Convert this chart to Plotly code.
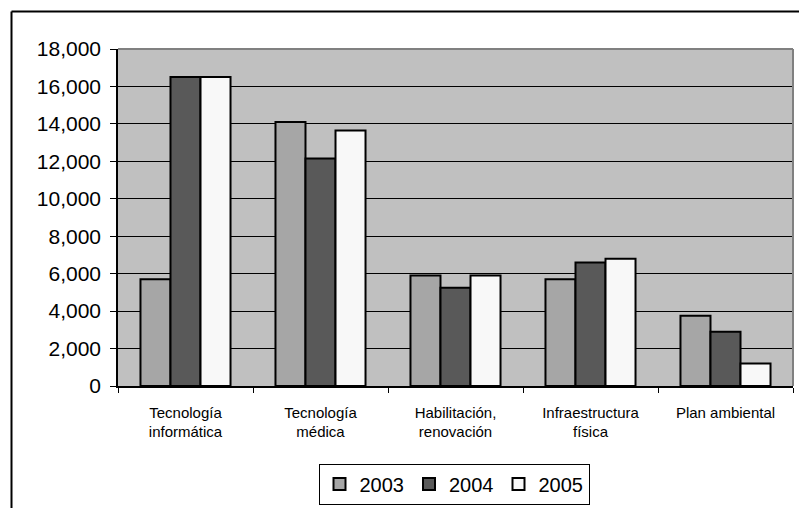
import plotly.graph_objects as go

# Categories (x axis) and yearly values
categories = [
    "Tecnología<br>informática",
    "Tecnología<br>médica",
    "Habilitación,<br>renovación",
    "Infraestructura<br>física",
    "Plan ambiental",
]
years = ["2003", "2004", "2005"]
values_2003 = [5700, 14100, 5900, 5700, 3750]
values_2004 = [16500, 12150, 5250, 6600, 2900]
values_2005 = [16500, 13650, 5900, 6800, 1200]
series_values = [values_2003, values_2004, values_2005]
bar_colors = ["#a6a6a6", "#595959", "#f8f8f8"]

y_ticks = list(range(0, 18001, 2000))

W, H = 799, 508
ML, MR, MT, MB = 118, 6, 49, 122
PW = W - ML - MR
PH = H - MT - MB

fig = go.Figure()
for name, vals, col in zip(years, series_values, bar_colors):
    fig.add_trace(go.Bar(
        x=categories, y=vals, name=name,
        marker=dict(color=col, line=dict(color="#000000", width=2)),
    ))

def px_x(p):
    return (p - ML) / PW

def px_y(q):
    return (H - MB - q) / PH

shapes = [
    # gray frame on top and right of the plotting area
    dict(type="line", xref="paper", yref="paper", x0=0, x1=1, y0=1, y1=1,
         line=dict(color="#808080", width=2)),
    dict(type="line", xref="paper", yref="paper", x0=1, x1=1, y0=0, y1=1,
         line=dict(color="#808080", width=2)),
    # outer chart border (left and top edges visible)
    dict(type="line", xref="paper", yref="paper", x0=px_x(11.5), x1=px_x(W + 5),
         y0=px_y(11.5), y1=px_y(11.5), line=dict(color="#000000", width=2)),
    dict(type="line", xref="paper", yref="paper", x0=px_x(11.5), x1=px_x(11.5),
         y0=px_y(11.5), y1=px_y(H + 5), line=dict(color="#000000", width=2)),
]

fig.update_layout(
    width=W, height=H,
    margin=dict(l=ML, r=MR, t=MT, b=MB, pad=0, autoexpand=False),
    paper_bgcolor="#ffffff",
    plot_bgcolor="#c0c0c0",
    barmode="group",
    bargap=0.333,
    bargroupgap=0,
    font=dict(family="Liberation Sans, Arial, sans-serif", color="#000000"),
    showlegend=True,
    legend=dict(
        orientation="h",
        x=px_x(454), xanchor="center",
        y=px_y(463.5), yanchor="top",
        bordercolor="#000000", borderwidth=1,
        bgcolor="#ffffff",
        font=dict(size=20, color="#000000"),
        traceorder="normal",
    ),
    shapes=shapes,
)

fig.update_xaxes(
    type="category",
    showline=True, linecolor="#000000", linewidth=1.5,
    ticks="outside", ticklen=5, tickcolor="#000000", tickwidth=1,
    tickson="boundaries",
    showgrid=False,
    tickfont=dict(size=15, color="#000000"),
    ticklabelstandoff=12,
)
fig.update_yaxes(
    range=[0, 18000],
    tickvals=y_ticks,
    tickformat=",d",
    showline=True, linecolor="#000000", linewidth=1.5,
    ticks="outside", ticklen=6, tickcolor="#000000", tickwidth=1,
    showgrid=True, gridcolor="#000000", gridwidth=1,
    zeroline=False,
    tickfont=dict(size=21, color="#000000"),
    ticklabelstandoff=5,
)

fig.write_html("out.html")
